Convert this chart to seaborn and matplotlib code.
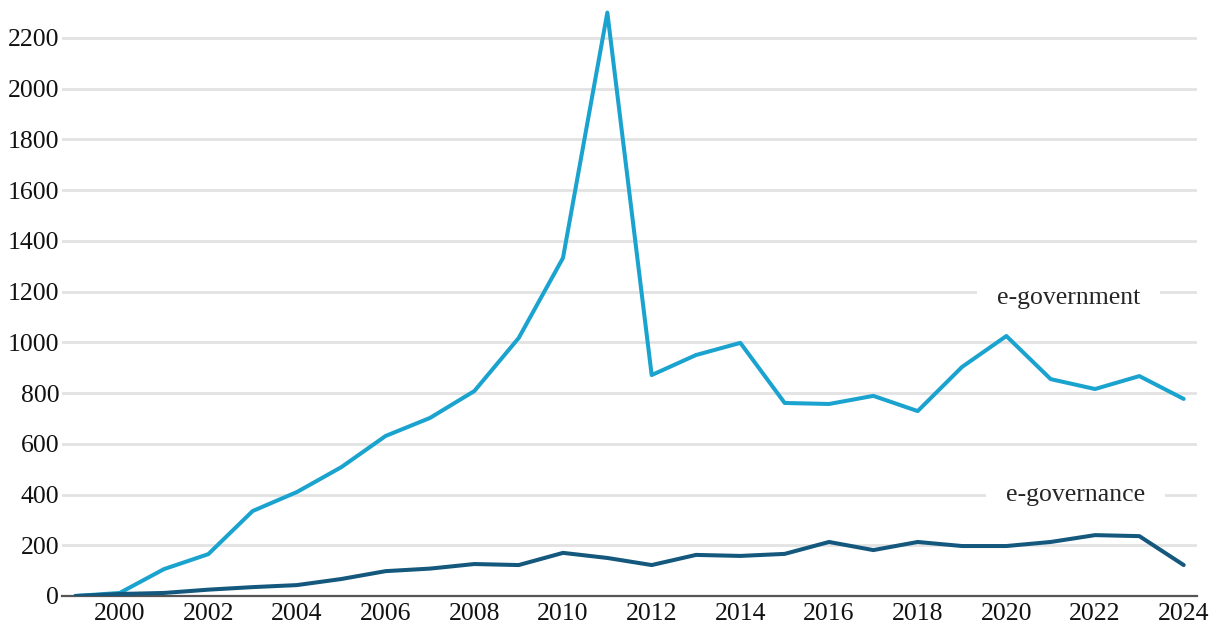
import pandas as pd
import numpy as np
import matplotlib
matplotlib.use("Agg")
import matplotlib.pyplot as plt
import seaborn as sns

# values
years = list(range(1999, 2025))
e_government = [0, 12, 106, 165, 335, 410, 508, 631, 702, 808, 1017, 1333, 2300,
                871, 950, 998, 761, 757, 789, 729, 903, 1025, 855, 816, 867, 777]
e_governance = [0, 8, 12, 25, 35, 43, 67, 98, 108, 126, 122, 170, 150,
                122, 162, 158, 166, 213, 181, 213, 197, 197, 213, 240, 236, 122]
series_names = ["e-government", "e-governance"]
series_colors = ["#1ba3cf", "#14587e"]
y_ticks = list(range(0, 2201, 200))
x_ticks = list(range(2000, 2025, 2))

df = pd.DataFrame({
    "year": years * 2,
    "count": e_government + e_governance,
    "series": [series_names[0]] * len(years) + [series_names[1]] * len(years),
})

sns.set_theme(style="white")
plt.rcParams["font.family"] = ["Liberation Serif", "DejaVu Serif"]

fig = plt.figure(figsize=(12.26, 6.33), dpi=100)
ax = fig.add_axes([62 / 1226, 37 / 633, 1135 / 1226, 591 / 633])

sns.lineplot(data=df, x="year", y="count", hue="series",
             palette=dict(zip(series_names, series_colors)),
             linewidth=2.9, legend=False, ax=ax, zorder=3)

ax.set_xlim(1998.7, 2024.3)
ax.set_ylim(0, 2330)
ax.set_yticks(y_ticks)
ax.set_xticks(x_ticks)
ax.set_xlabel("")
ax.set_ylabel("")
ax.tick_params(axis="both", length=0, labelsize=18.5, colors="#111111")
ax.tick_params(axis="y", pad=2)
ax.tick_params(axis="x", pad=5)

ax.yaxis.grid(True, color="#e2e2e2", linewidth=2)
ax.xaxis.grid(False)
ax.set_axisbelow(True)
for side in ["top", "right", "left"]:
    ax.spines[side].set_visible(False)
ax.spines["bottom"].set_color("#555555")
ax.spines["bottom"].set_linewidth(1.6)

# series labels with white box that hides the gridline behind
box = dict(facecolor="white", edgecolor="none", pad=14)
ax.text(2021.4, 1175, "e-government", fontsize=18.5, ha="center", va="center",
        bbox=box, zorder=2)
ax.text(2021.56, 398, "e-governance", fontsize=18.5, ha="center", va="center",
        bbox=box, zorder=2)

fig.savefig("out.png", dpi=100)
